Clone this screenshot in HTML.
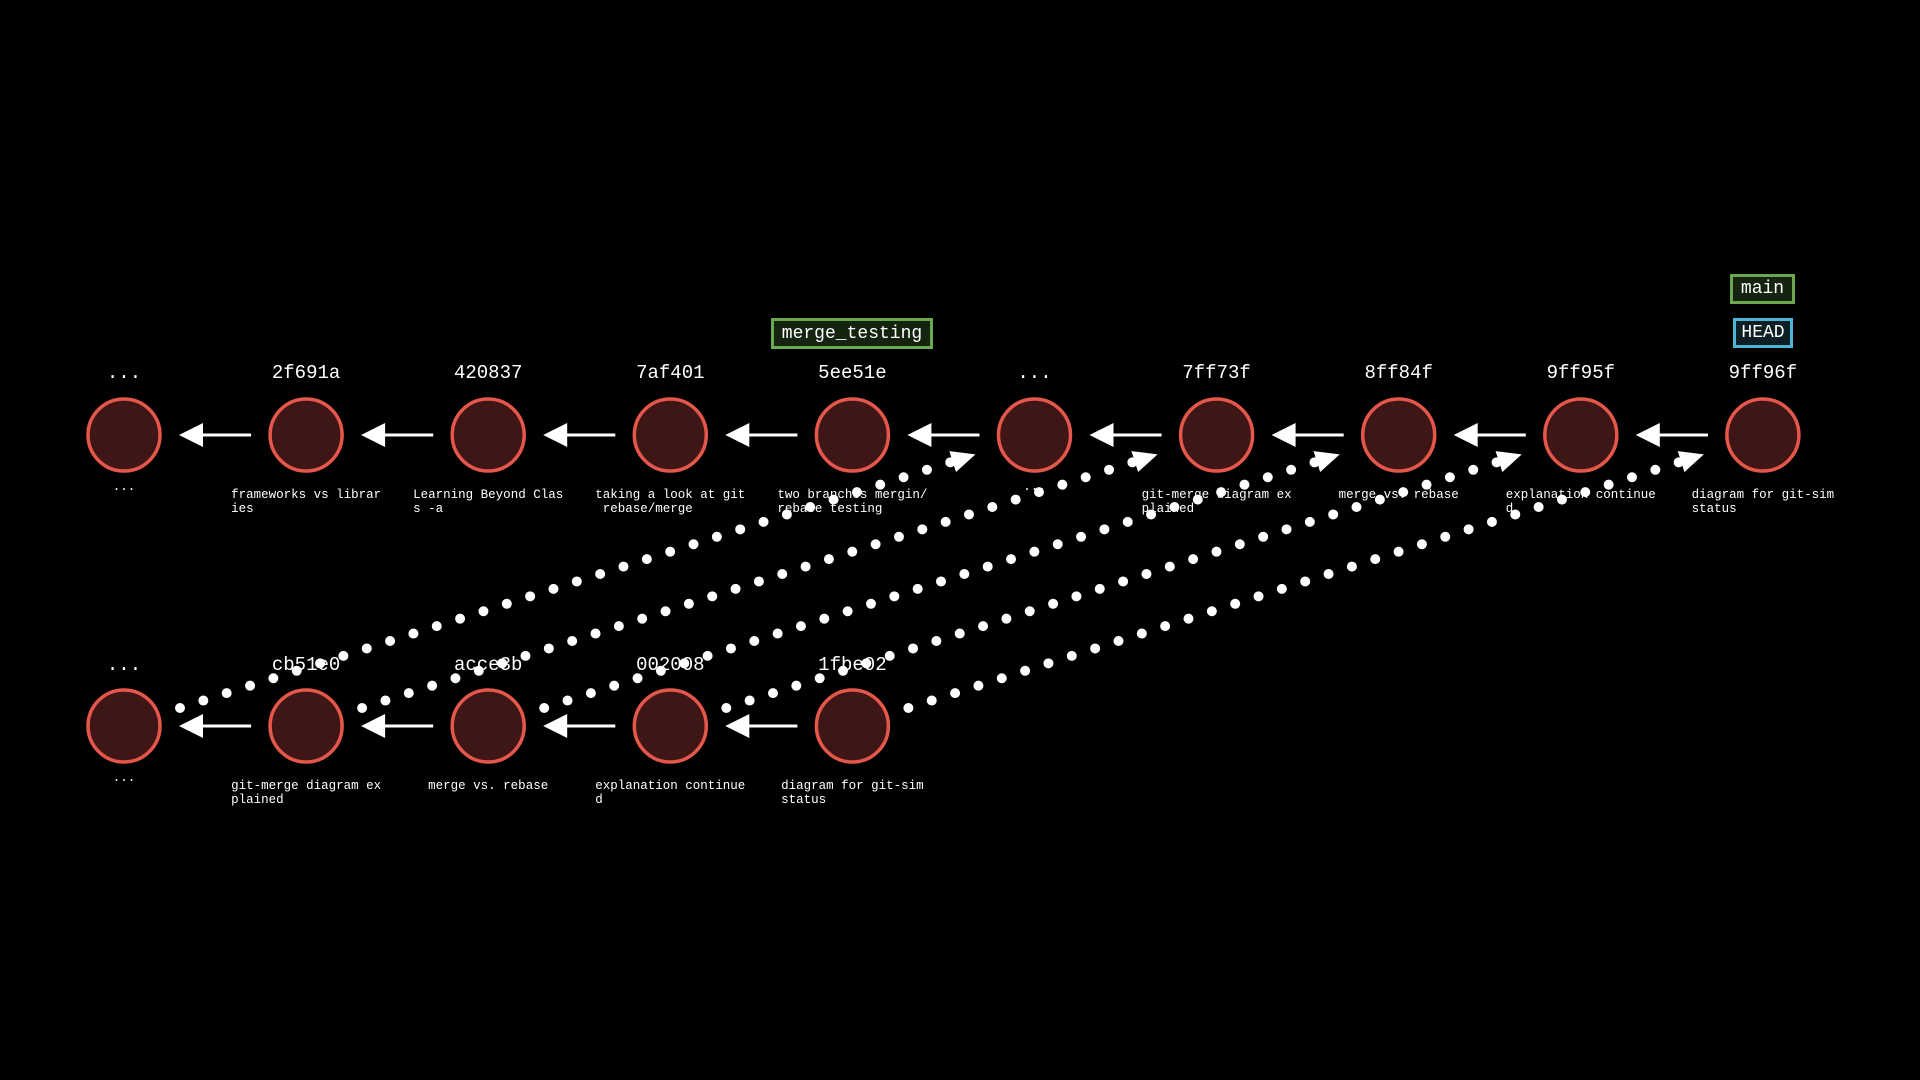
<!DOCTYPE html>
<html><head><meta charset="utf-8"><style>
html,body{margin:0;padding:0;background:#000;}
#c{position:relative;width:1920px;height:1080px;overflow:hidden;background:#000;font-family:"Liberation Mono",monospace;color:#fff;}
.h{position:absolute;transform:translate(-50%,-50%);font-size:19px;white-space:pre;}
.m{position:absolute;transform:translateX(-50%);font-size:12.5px;line-height:14px;white-space:pre;text-align:left;}
.b{position:absolute;font-size:18px;display:flex;align-items:center;justify-content:center;box-sizing:border-box;font-family:"Liberation Mono",monospace;}
</style></head><body><div id="c">
<svg width="1920" height="1080" style="position:absolute;left:0;top:0">
<defs>
<marker id="ah" markerWidth="24" markerHeight="22" refX="2" refY="11" orient="auto" markerUnits="userSpaceOnUse">
<path d="M0,0 L24,11 L0,22 Z" fill="#fff"/>
</marker>
</defs>
<g id="g"></g>
</svg>
<div id="t"></div>
<div class="b" style="left:771px;top:318px;width:162px;height:31px;border:3px solid #6aa84f;background:#15240f;">merge_testing</div>
<div class="b" style="left:1730px;top:274px;width:65px;height:30px;border:3px solid #6aa84f;background:#15240f;">main</div>
<div class="b" style="left:1733px;top:318px;width:60px;height:30px;border:3px solid #4fb5d6;background:#0d1e24;">HEAD</div>
</div>
<script>
var g=document.getElementById('g'),t=document.getElementById('t'),s='';
var X=i=>124+182.1*i, YT=435, YB=726;
for(var i=0;i<5;i++){
 var x1=X(i)+56,y1=708,x2=X(i+5)-80,y2=461;
 s+='<line x1="'+x1+'" y1="'+y1+'" x2="'+x2+'" y2="'+y2+'" stroke="#fff" stroke-width="10" stroke-linecap="round" stroke-dasharray="0 24.5" marker-end="url(#ah)"/>';
}
function row(y,n){
 for(var i=0;i<n;i++){
  if(i>0){var tip=X(i-1)+55,end=X(i)-55;
   s+='<line x1="'+(tip+20)+'" y1="'+y+'" x2="'+end+'" y2="'+y+'" stroke="#fff" stroke-width="3"/>';
   s+='<path d="M'+tip+','+y+' L'+(tip+24)+','+(y-12)+' L'+(tip+24)+','+(y+12)+' Z" fill="#fff"/>';}
  s+='<circle cx="'+X(i)+'" cy="'+y+'" r="36" fill="#3e1616" stroke="#e5564b" stroke-width="3.5"/>';
 }
}
row(YT,10);row(YB,5);
g.innerHTML=s;
var th=['...','2f691a','420837','7af401','5ee51e','...','7ff73f','8ff84f','9ff95f','9ff96f'];
var tm=['...','frameworks vs librar\nies','Learning Beyond Clas\ns -a','taking a look at git\n rebase/merge','two branches mergin/\nrebase testing','...','git-merge diagram ex\nplained','merge vs. rebase','explanation continue\nd','diagram for git-sim\nstatus'];
var bh=['...','cb51e0','acce3b','002008','1fbe02'];
var bm=['...','git-merge diagram ex\nplained','merge vs. rebase','explanation continue\nd','diagram for git-sim\nstatus'];
var h='';
th.forEach((v,i)=>{h+='<div class="h" style="left:'+X(i)+'px;top:373px">'+v+'</div>';});
tm.forEach((v,i)=>{h+='<div class="m" style="left:'+X(i)+'px;top:'+(v=='...'?480:488)+'px">'+v+'</div>';});
bh.forEach((v,i)=>{h+='<div class="h" style="left:'+X(i)+'px;top:665px">'+v+'</div>';});
bm.forEach((v,i)=>{h+='<div class="m" style="left:'+X(i)+'px;top:'+(v=='...'?771:779)+'px">'+v+'</div>';});
t.innerHTML=h;
</script>
</body></html>
